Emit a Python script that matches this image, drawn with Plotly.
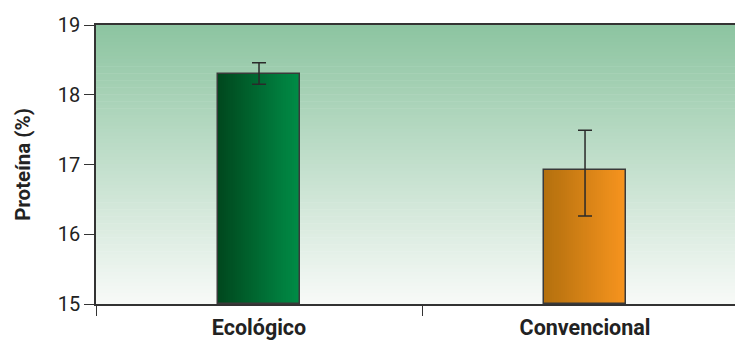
import plotly.graph_objects as go

categories = ["Ecológico", "Convencional"]
values = [18.30, 16.92]
err_plus = [0.16, 0.57]
err_minus = [0.15, 0.66]
y_ticks = [15, 16, 17, 18, 19]

left_colors = [(0, 72, 30), (180, 112, 14)]
right_colors = [(0, 140, 70), (247, 148, 30)]
bg_top = (140, 196, 160)
bg_bottom = (248, 250, 248)

def mix(a, b, t):
    return "rgb(%d,%d,%d)" % tuple(round(a[k] + (b[k] - a[k]) * t) for k in range(3))

fig = go.Figure()
N = 40
bw = 0.25
for i in range(N):
    t = i / (N - 1)
    fig.add_trace(go.Bar(
        x=categories, y=[v - 15 for v in values], base=15,
        width=bw / N * 1.05, offset=-bw / 2 + i * bw / N,
        marker=dict(color=[mix(left_colors[j], right_colors[j], t) for j in range(2)],
                    line=dict(width=0)),
        hoverinfo="skip", showlegend=False))

fig.add_trace(go.Bar(
    x=categories, y=[v - 15 for v in values], base=15,
    width=bw, offset=-bw / 2,
    marker=dict(color="rgba(0,0,0,0)", line=dict(color="#3a3a3a", width=1.5)),
    showlegend=False))

fig.add_trace(go.Scatter(
    x=categories, y=values, mode="markers", marker=dict(size=0.1, color="rgba(0,0,0,0)"),
    error_y=dict(type="data", symmetric=False, array=err_plus, arrayminus=err_minus,
                 color="#2a2a2a", thickness=1.5, width=7),
    showlegend=False))

shapes = []
M = 80
for i in range(M):
    shapes.append(dict(type="rect", xref="paper", yref="paper", x0=0, x1=1,
                       y0=1 - (i + 1) / M, y1=1 - i / M + 0.002,
                       fillcolor=mix(bg_top, bg_bottom, (i + 0.5) / M),
                       line=dict(width=0), layer="below"))

font = "Roboto, Arial, sans-serif"
fig.update_layout(
    width=735, height=340,
    margin=dict(l=96, r=0, t=25, b=36),
    paper_bgcolor="white", plot_bgcolor="white",
    barmode="overlay", bargap=0,
    shapes=shapes,
    xaxis=dict(type="category", range=[-0.5, 1.46], showline=True, linecolor="#333",
               linewidth=1.5, mirror=True, ticks="outside", tickson="boundaries",
               ticklen=10, tickcolor="#333", tickwidth=1.2, showgrid=False,
               ticklabelstandoff=3,
               tickfont=dict(family=font, size=21.5, color="#222", weight="bold"), zeroline=False),
    yaxis=dict(range=[15, 19], tickvals=y_ticks, showline=True, linecolor="#333",
               linewidth=1.5, ticks="outside", ticklen=10, tickcolor="#333",
               tickwidth=1.2, showgrid=False, zeroline=False,
               tickfont=dict(family=font, size=20, color="#222"),
               title=dict(text="<b>Proteína (%)</b>", font=dict(family=font, size=20.5, color="#222"),
                          standoff=22)),
)
fig.write_html("out.html", config={"displayModeBar": False},
               post_script="document.body.style.margin='0';")
